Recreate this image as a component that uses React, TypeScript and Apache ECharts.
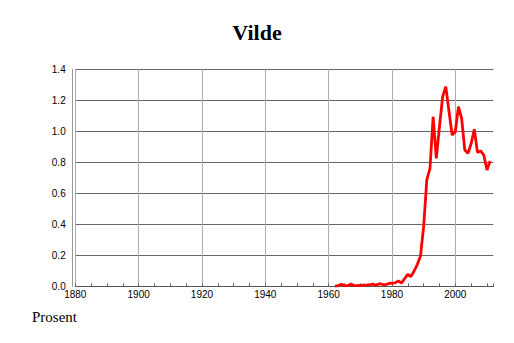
import React, { useEffect, useRef } from "react";
import * as echarts from "echarts";

const TITLE = "Vilde";
const Y_LABEL = "Prosent";

const years: number[] = [
  1962, 1963, 1964, 1965, 1966, 1967, 1968, 1969, 1970, 1971,
  1972, 1973, 1974, 1975, 1976, 1977, 1978, 1979, 1980, 1981,
  1982, 1983, 1984, 1985, 1986, 1987, 1988, 1989, 1990, 1991,
  1992, 1993, 1994, 1995, 1996, 1997, 1998, 1999, 2000, 2001,
  2002, 2003, 2004, 2005, 2006, 2007, 2008, 2009, 2010, 2011,
];

const percent: number[] = [
  0.0, 0.005, 0.012, 0.006, 0.004, 0.014, 0.005, 0.004, 0.006, 0.008,
  0.007, 0.01, 0.014, 0.005, 0.017, 0.012, 0.01, 0.018, 0.02, 0.022,
  0.035, 0.02, 0.05, 0.077, 0.062, 0.1, 0.14, 0.195, 0.385, 0.686,
  0.76, 1.094, 0.826, 1.03, 1.223, 1.288, 1.13, 0.976, 0.997, 1.159,
  1.084, 0.879, 0.858, 0.92, 1.013, 0.864, 0.873, 0.847, 0.75, 0.808,
];

const X_MIN = 1880;
const X_MAX = 2012;
const X_STEP = 20;
const X_MINOR_STEP = 5;
const Y_MIN = 0;
const Y_MAX = 1.4;
const Y_STEP = 0.2;

export default function App() {
  const ref = useRef<HTMLDivElement>(null);

  useEffect(() => {
    if (!ref.current) return;
    const chart = echarts.init(ref.current, undefined, { renderer: "svg" });
    const data = years.map((y, i) => [y, percent[i]]);
    const sans = "'Liberation Sans', Arial, sans-serif";
    const serif = "'Liberation Serif', 'Times New Roman', serif";

    chart.setOption({
      animation: false,
      backgroundColor: "#ffffff",
      title: {
        text: TITLE,
        left: "center",
        top: 16,
        textStyle: {
          fontFamily: serif,
          fontWeight: "bold",
          fontSize: 22,
          color: "#000",
        },
      },
      graphic: [
        {
          type: "text",
          left: 32,
          top: 309,
          style: {
            text: Y_LABEL,
            font: `15px ${serif}`,
            fill: "#000",
          },
        },
      ],
      grid: {
        left: 75.3,
        right: 20.7,
        top: 69.3,
        bottom: 56.7,
        containLabel: false,
      },
      xAxis: [
        {
          type: "value",
          min: X_MIN,
          max: X_MAX,
          interval: X_STEP,
          position: "bottom",
          axisLine: { show: true, lineStyle: { color: "#555", width: 1 } },
          axisTick: { show: false },
          axisLabel: {
            show: true,
            margin: 3,
            fontFamily: sans,
            fontSize: 10,
            color: "#000",
            showMaxLabel: false,
            formatter: (v: number) => String(v),
          },
          splitLine: {
            show: true,
            showMaxLine: false,
            lineStyle: { color: "#acacac", width: 1 },
          },
        },
        {
          type: "value",
          min: X_MIN,
          max: X_MAX,
          interval: X_MINOR_STEP,
          position: "bottom",
          axisLine: { show: false },
          axisTick: {
            show: true,
            inside: true,
            length: 3,
            lineStyle: { color: "#666", width: 1 },
          },
          axisLabel: { show: false },
          splitLine: { show: false },
        },
      ],
      yAxis: {
        type: "value",
        min: Y_MIN,
        max: Y_MAX,
        interval: Y_STEP,
        offset: 2.6,
        axisLine: { show: true, lineStyle: { color: "#999", width: 1 } },
        axisTick: { show: false },
        axisLabel: {
          margin: 7,
          fontFamily: sans,
          fontSize: 10,
          color: "#000",
          formatter: (v: number) => v.toFixed(1),
        },
        splitLine: {
          show: true,
          lineStyle: { color: "#666", width: 1 },
        },
      },
      series: [
        {
          type: "line",
          xAxisIndex: 0,
          data,
          showSymbol: false,
          symbol: "none",
          lineStyle: { color: "#ff0000", width: 2.8 },
          itemStyle: { color: "#ff0000" },
          z: 5,
        },
      ],
    });

    return () => chart.dispose();
  }, []);

  return (
    <div
      ref={ref}
      style={{ position: "fixed", left: 0, top: 0, width: 514, height: 343 }}
    />
  );
}
